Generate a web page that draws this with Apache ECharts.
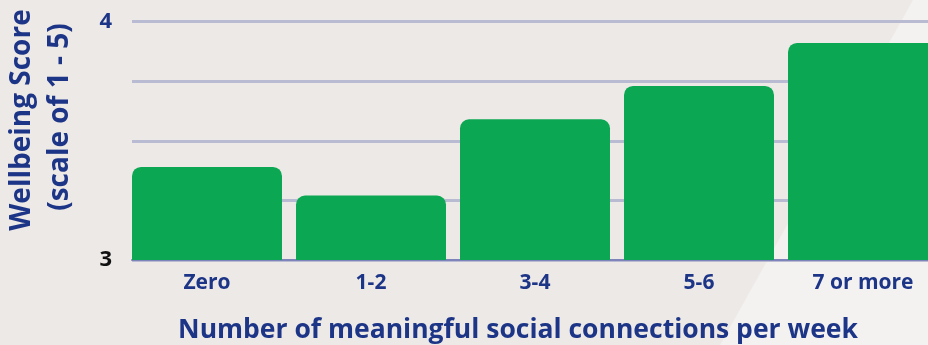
<!DOCTYPE html>
<html>
<head>
<meta charset="utf-8">
<script src="https://cdn.jsdelivr.net/npm/echarts@6/dist/echarts.min.js"></script>
<style>
  html, body { margin: 0; padding: 0; background: #ede9e6; }
  #chart { width: 928px; height: 345px; }
</style>
</head>
<body>
<div id="chart"></div>
<script>
// Wellbeing score by number of meaningful social connections per week
const categories = ['Zero', '1-2', '3-4', '5-6', '7 or more'];
const wellbeingScores = [3.39, 3.27, 3.59, 3.73, 3.91];
const yTickLabels = { 3: '3', 4: '4' };

const NAVY = '#1d3587';
const FONT = '"Open Sans", "Noto Sans", sans-serif';

const chart = echarts.init(document.getElementById('chart'), null, { renderer: 'canvas' });

chart.setOption({
  backgroundColor: '#ede9e6',
  animation: false,
  grid: {
    left: 132, top: 21.5, width: 820, height: 238.5,
    containLabel: false,
    outerBoundsMode: 'none'
  },
  graphic: [
    {
      type: 'polygon',
      z: -10,
      silent: true,
      shape: { points: [[913, 0], [928, 0], [928, 345], [720, 345]] },
      style: { fill: '#f3f2f1' }
    },
    {
      type: 'text',
      x: 22, y: 120,
      rotation: Math.PI / 2,
      style: {
        text: 'Wellbeing Score',
        fill: NAVY,
        font: 'bold 28px ' + FONT,
        align: 'center',
        verticalAlign: 'middle'
      }
    },
    {
      type: 'text',
      x: 60, y: 117,
      rotation: Math.PI / 2,
      style: {
        text: '(scale of 1 - 5)',
        fill: NAVY,
        font: 'bold 28px ' + FONT,
        align: 'center',
        verticalAlign: 'middle'
      }
    },
    {
      type: 'text',
      x: 518, y: 330,
      style: {
        text: 'Number of meaningful social connections per week',
        fill: NAVY,
        font: 'bold 26.5px ' + FONT,
        align: 'center',
        verticalAlign: 'middle'
      }
    }
  ],
  xAxis: {
    type: 'category',
    data: categories,
    axisTick: { show: false },
    axisLine: { show: true, lineStyle: { color: '#7e84ba', width: 2 } },
    axisLabel: {
      color: NAVY,
      fontFamily: FONT,
      fontWeight: 'bold',
      fontSize: 21,
      margin: 13,
      interval: 0,
      // labels sit under the bars, which are flush left in each band
      padding: [0, 14, 0, 0]
    }
  },
  yAxis: {
    type: 'value',
    min: 3,
    max: 4,
    interval: 0.25,
    axisLine: { show: false },
    axisTick: { show: false },
    axisLabel: {
      margin: 20,
      fontFamily: FONT,
      fontWeight: 'bold',
      fontSize: 22,
      formatter: v => yTickLabels[v] || '',
      color: v => (Number(v) === 4 ? NAVY : '#111111')
    },
    splitLine: { show: true, lineStyle: { color: '#b9bbd3', width: 3 } }
  },
  series: [
    {
      type: 'bar',
      data: wellbeingScores,
      barWidth: 150,
      barGap: '0%',
      itemStyle: { color: '#0ba752', borderRadius: [9, 9, 0, 0] }
    },
    {
      // spacer that keeps each bar flush with the left edge of its band
      type: 'bar',
      data: categories.map(() => null),
      barWidth: 14,
      silent: true,
      itemStyle: { color: 'transparent' }
    }
  ]
});
</script>
</body>
</html>
